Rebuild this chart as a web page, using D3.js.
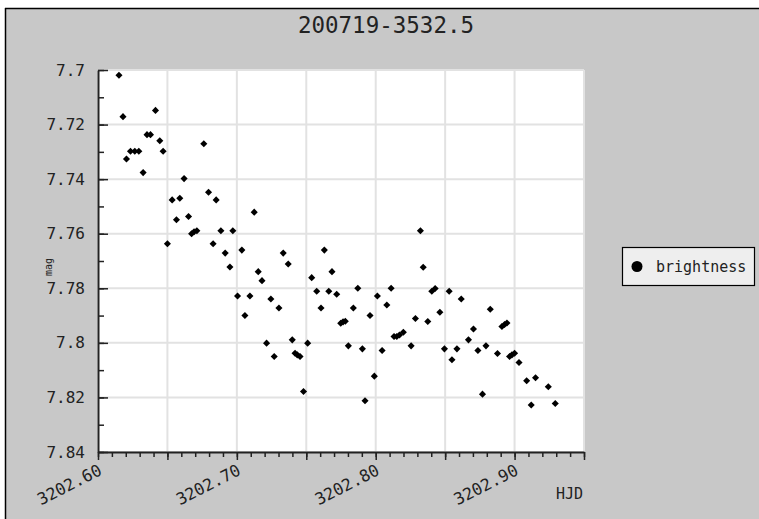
<!DOCTYPE html>
<html>
<head>
<meta charset="utf-8">
<script src="https://cdn.jsdelivr.net/npm/d3@7"></script>
<style>
  body { margin: 0; background: #ffffff; overflow: hidden; }
  svg { display: block; }
  text { font-family: "DejaVu Sans Mono", monospace; fill: #222222; }
</style>
</head>
<body>
<div id="vis1"></div>
<script>
//build frame

const FRAME_HEIGHT = 519;
const FRAME_WIDTH = 759;
const PLOT = {left: 98, right: 584, top: 70, bottom: 452};

//data
const HJD = [3202.6151, 3202.6180, 3202.6205, 3202.6234, 3202.6265, 3202.6294, 3202.6325, 3202.6353, 3202.6378, 3202.6414,
  3202.6445, 3202.6469, 3202.6500, 3202.6534, 3202.6565, 3202.6589, 3202.6620, 3202.6652, 3202.6674, 3202.6692,
  3202.6712, 3202.6762, 3202.6796, 3202.6829, 3202.6851, 3202.6885, 3202.6916, 3202.6950, 3202.6971, 3202.7005,
  3202.7036, 3202.7058, 3202.7094, 3202.7125, 3202.7154, 3202.7181, 3202.7214, 3202.7245, 3202.7269, 3202.7303,
  3202.7334, 3202.7370, 3202.7399, 3202.7419, 3202.7435, 3202.7455, 3202.7480, 3202.7510, 3202.7539, 3202.7575,
  3202.7606, 3202.7630, 3202.7662, 3202.7685, 3202.7719, 3202.7748, 3202.7765, 3202.7781, 3202.7803, 3202.7839,
  3202.7871, 3202.7904, 3202.7923, 3202.7959, 3202.7990, 3202.8012, 3202.8046, 3202.8080, 3202.8111, 3202.8132,
  3202.8152, 3202.8171, 3202.8199, 3202.8255, 3202.8286, 3202.8322, 3202.8342, 3202.8375, 3202.8404, 3202.8428,
  3202.8462, 3202.8495, 3202.8529, 3202.8549, 3202.8585, 3202.8616, 3202.8668, 3202.8704, 3202.8736, 3202.8769,
  3202.8794, 3202.8825, 3202.8877, 3202.8909, 3202.8928, 3202.8945, 3202.8964, 3202.8981, 3202.9000, 3202.9032,
  3202.9087, 3202.9120, 3202.9151, 3202.9243, 3202.9293];

const MAG = [7.7019, 7.7171, 7.7326, 7.7298, 7.7298, 7.7298, 7.7376, 7.7237, 7.7237, 7.7148,
  7.7259, 7.7298, 7.7637, 7.7476, 7.7549, 7.7470, 7.7398, 7.7537, 7.7600, 7.7593,
  7.7589, 7.7270, 7.7448, 7.7637, 7.7476, 7.7589, 7.7671, 7.7722, 7.7589, 7.7828,
  7.7660, 7.7900, 7.7828, 7.7521, 7.7739, 7.7772, 7.8001, 7.7839, 7.8050, 7.7872,
  7.7671, 7.7711, 7.7989, 7.8038, 7.8044, 7.8050, 7.8178, 7.8001, 7.7761, 7.7811,
  7.7872, 7.7660, 7.7811, 7.7739, 7.7822, 7.7928, 7.7923, 7.7921, 7.8011, 7.7872,
  7.7800, 7.8022, 7.8212, 7.7900, 7.8122, 7.7828, 7.8028, 7.7861, 7.7800, 7.7977,
  7.7977, 7.7971, 7.7961, 7.8011, 7.7911, 7.7589, 7.7723, 7.7922, 7.7811, 7.7801,
  7.7888, 7.8022, 7.7811, 7.8062, 7.8022, 7.7839, 7.7989, 7.7949, 7.8028, 7.8188,
  7.8011, 7.7877, 7.8039, 7.7940, 7.7933, 7.7927, 7.8050, 7.8044, 7.8038, 7.8072,
  7.8139, 7.8228, 7.8128, 7.8161, 7.8222];

//ticks and labels
const X_DOMAIN = [3202.60, 3202.95];
const Y_DOMAIN = [7.70, 7.84];
const X_LABEL_TICKS = [3202.60, 3202.70, 3202.80, 3202.90];
const X_LABELS = ["3202.60", "3202.70", "3202.80", "3202.90"];
const X_GRID = [3202.60, 3202.65, 3202.70, 3202.75, 3202.80, 3202.85, 3202.90, 3202.95];
const Y_TICKS = [7.70, 7.72, 7.74, 7.76, 7.78, 7.80, 7.82, 7.84];
const Y_LABELS = ["7.7", "7.72", "7.74", "7.76", "7.78", "7.8", "7.82", "7.84"];

const TITLE = "200719-3532.5";
const SERIES = "brightness";

function build_light_curve(){
  const points = HJD.map((t, i) => ({hjd: t, mag: MAG[i]}));

  const FRAME1 = d3.select("#vis1")
    .append("svg")
    .attr("height", FRAME_HEIGHT)
    .attr("width", FRAME_WIDTH);

  //gray chart panel, only its top and left border are in view
  FRAME1.append("rect")
    .attr("x", 5).attr("y", 8)
    .attr("width", FRAME_WIDTH).attr("height", FRAME_HEIGHT)
    .attr("fill", "#c8c8c8");
  FRAME1.append("line")
    .attr("x1", 5).attr("x2", FRAME_WIDTH).attr("y1", 8.5).attr("y2", 8.5)
    .attr("stroke", "#000000").attr("stroke-width", 1.5);
  FRAME1.append("line")
    .attr("x1", 5.5).attr("x2", 5.5).attr("y1", 8).attr("y2", FRAME_HEIGHT)
    .attr("stroke", "#000000").attr("stroke-width", 1.5);

  //x is hjd, y is magnitude with bright at top
  const X_SCALE = d3.scaleLinear().domain(X_DOMAIN).range([PLOT.left, PLOT.right]);
  const Y_SCALE = d3.scaleLinear().domain(Y_DOMAIN).range([PLOT.top, PLOT.bottom]);

  //white plot area
  FRAME1.append("rect")
    .attr("x", X_SCALE(X_DOMAIN[0]))
    .attr("y", Y_SCALE(Y_DOMAIN[0]))
    .attr("width", X_SCALE(X_DOMAIN[1]) - X_SCALE(X_DOMAIN[0]) + 1)
    .attr("height", Y_SCALE(Y_DOMAIN[1]) - Y_SCALE(Y_DOMAIN[0]))
    .attr("fill", "#ffffff");

  //grid
  FRAME1.append("g").selectAll("line")
    .data(X_GRID).enter().append("line")
    .attr("x1", d => X_SCALE(d)).attr("x2", d => X_SCALE(d))
    .attr("y1", Y_SCALE(Y_DOMAIN[0])).attr("y2", Y_SCALE(Y_DOMAIN[1]))
    .attr("stroke", "#e2e2e2").attr("stroke-width", 2);

  FRAME1.append("g").selectAll("line")
    .data(Y_TICKS).enter().append("line")
    .attr("x1", X_SCALE(X_DOMAIN[0])).attr("x2", X_SCALE(X_DOMAIN[1]))
    .attr("y1", d => Y_SCALE(d)).attr("y2", d => Y_SCALE(d))
    .attr("stroke", "#e2e2e2").attr("stroke-width", 2);

  //minor y ticks every 0.01, pointing into the plot
  FRAME1.append("g")
    .attr("transform", "translate(" + PLOT.left + ",0)")
    .call(d3.axisLeft(Y_SCALE).ticks(14).tickSize(-6).tickSizeOuter(0).tickFormat(""))
    .call(g => g.selectAll("line").attr("stroke", "#222").attr("stroke-width", 1.5))
    .call(g => g.select(".domain").attr("stroke", "#222").attr("stroke-width", 2));

  //major y ticks with labels
  FRAME1.append("g")
    .attr("transform", "translate(" + PLOT.left + ",0)")
    .call(d3.axisLeft(Y_SCALE).tickValues(Y_TICKS).tickSize(-10).tickSizeOuter(0).tickPadding(13)
      .tickFormat((d, i) => Y_LABELS[i]))
    .call(g => g.select(".domain").remove())
    .call(g => g.selectAll("line").attr("stroke", "#222").attr("stroke-width", 1.5))
    .call(g => g.selectAll("text").attr("font-size", "16px").attr("font-family", "DejaVu Sans Mono").attr("fill", "#222"));

  //minor x ticks every 0.01
  FRAME1.append("g")
    .attr("transform", "translate(0," + PLOT.bottom + ")")
    .call(d3.axisBottom(X_SCALE).ticks(35).tickSize(5).tickSizeOuter(0).tickFormat(""))
    .call(g => g.selectAll("line").attr("stroke", "#222").attr("stroke-width", 1.5))
    .call(g => g.select(".domain").attr("stroke", "#222").attr("stroke-width", 2));

  //longer x ticks every 0.05
  FRAME1.append("g")
    .attr("transform", "translate(0," + PLOT.bottom + ")")
    .call(d3.axisBottom(X_SCALE).tickValues(X_GRID).tickSize(8).tickSizeOuter(0).tickFormat(""))
    .call(g => g.select(".domain").remove())
    .call(g => g.selectAll("line").attr("stroke", "#222").attr("stroke-width", 1.5));

  //rotated x labels
  FRAME1.append("g").selectAll("text")
    .data(X_LABEL_TICKS).enter().append("text")
    .attr("transform", d => "translate(" + (X_SCALE(d) + 5) + "," + (PLOT.bottom + 22) + ") rotate(-27)")
    .attr("text-anchor", "end")
    .attr("font-size", "16.5px")
    .text((d, i) => X_LABELS[i]);

  //points
  FRAME1.append("g").selectAll("path")
    .data(points).enter().append("path")
    .attr("transform", d => "translate(" + X_SCALE(d.hjd) + "," + Y_SCALE(d.mag) + ")")
    .attr("d", d3.symbol(d3.symbolDiamond2, 32))
    .attr("fill", "#000000");

  //title and axis names
  FRAME1.append("text")
    .attr("x", 386).attr("y", 33)
    .attr("text-anchor", "middle")
    .attr("font-size", "22.5px")
    .text(TITLE);

  FRAME1.append("text")
    .attr("x", 583).attr("y", 499)
    .attr("text-anchor", "end")
    .attr("font-size", "15px")
    .text("HJD");

  FRAME1.append("text")
    .attr("transform", "translate(52," + ((PLOT.top + PLOT.bottom) / 2 + 6) + ") rotate(-90)")
    .attr("text-anchor", "middle")
    .attr("font-size", "10px")
    .text("mag");

  //legend
  const LEGEND = FRAME1.append("g").attr("transform", "translate(622,247)");
  LEGEND.append("rect")
    .attr("x", 0.5).attr("y", 0.5)
    .attr("width", 132).attr("height", 38)
    .attr("fill", "#eeeeee").attr("stroke", "#000000").attr("stroke-width", 1.2);
  LEGEND.append("circle")
    .attr("cx", 15).attr("cy", 19.5).attr("r", 5.5)
    .attr("fill", "#000000");
  LEGEND.append("text")
    .attr("x", 34).attr("y", 25)
    .attr("font-size", "15px")
    .text(SERIES);
}

build_light_curve()
</script>
</body>
</html>
